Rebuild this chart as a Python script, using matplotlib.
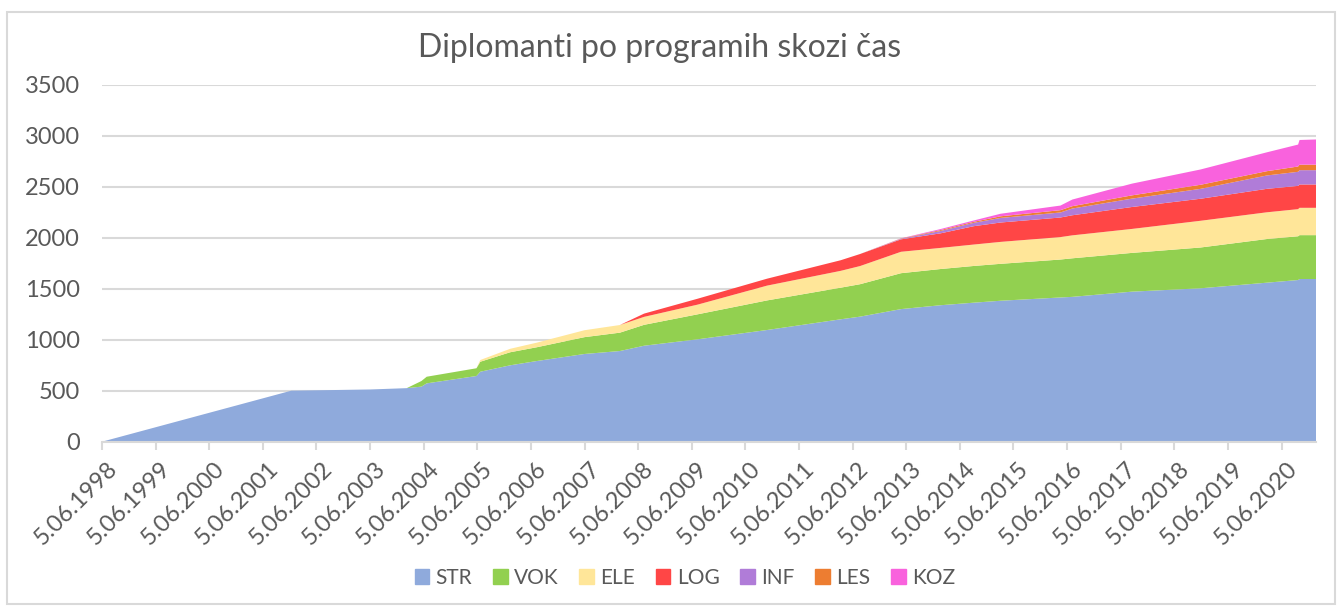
import numpy as np
import pandas as pd
import matplotlib
matplotlib.use("Agg")
import matplotlib.pyplot as plt
from matplotlib.patches import Rectangle
from matplotlib.transforms import ScaledTranslation

plt.rcParams['font.family'] = ['Lato', 'DejaVu Sans']

# cumulative graduates per programme
dates = ['1998-06-05', '2001-12-15', '2003-06-05', '2004-02-10', '2004-05-20',
         '2004-06-25', '2005-05-30', '2005-06-25', '2006-01-15', '2006-07-15',
         '2007-06-05', '2008-02-01', '2008-07-15', '2009-07-15', '2010-10-30',
         '2012-03-15', '2012-07-25', '2013-04-30', '2014-01-25', '2014-09-08',
         '2015-03-10', '2016-04-20', '2016-07-10', '2017-08-20', '2018-12-01',
         '2020-02-25', '2020-09-25', '2020-10-05', '2021-01-25']
STR = [0, 500, 512, 525, 540, 572, 644, 686, 749, 791, 860, 889, 941, 1004, 1095,
       1200, 1226, 1300, 1338, 1363, 1382, 1414, 1420, 1471, 1504, 1559, 1585, 1595, 1595]
VOK = [0, 0, 0, 0, 55, 65, 76, 98, 128, 135, 165, 180, 205, 245, 290,
       310, 318, 352, 355, 360, 362, 372, 378, 380, 400, 428, 429, 430, 430]
ELE = [0, 0, 0, 0, 0, 0, 0, 17, 34, 45, 68, 75, 78, 95, 145,
       165, 178, 210, 207, 210, 215, 220, 225, 235, 262, 262, 266, 268, 268]
LOG = [0, 0, 0, 0, 0, 0, 0, 0, 0, 0, 0, 0, 32, 58, 68,
       104, 118, 122, 143, 180, 190, 192, 197, 215, 216, 230, 228, 229, 229]
INF = [0, 0, 0, 0, 0, 0, 0, 0, 0, 0, 0, 0, 0, 0, 0,
       0, 0, 5, 23, 33, 45, 49, 66, 82, 97, 131, 138, 140, 140]
LES = [0, 0, 0, 0, 0, 0, 0, 0, 0, 0, 0, 0, 0, 0, 0,
       0, 0, 3, 9, 10, 16, 23, 23, 32, 40, 42, 52, 54, 54]
KOZ = [0, 0, 0, 0, 0, 0, 0, 0, 0, 0, 0, 0, 0, 0, 0,
       0, 0, 2, 10, 13, 25, 45, 65, 115, 150, 185, 215, 242, 247]

names = ['STR', 'VOK', 'ELE', 'LOG', 'INF', 'LES', 'KOZ']
colors = ['#8faadc', '#92d050', '#ffe699', '#ff4646', '#b07cd8', '#ed7d31', '#f962dd']
tick_years = list(range(1998, 2021))

x = pd.to_datetime(dates)

fig = plt.figure(figsize=(13.42, 6.10), dpi=100)
ax = fig.add_axes([102 / 1342, 1 - 441.7 / 610, (1316 - 102) / 1342, (441.7 - 84.7) / 610])

ax.stackplot(x, STR, VOK, ELE, LOG, INF, LES, KOZ, colors=colors, labels=names,
             linewidth=0, zorder=2)

ax.set_ylim(0, 3500)
ax.set_yticks(range(0, 3501, 500))
ax.set_xlim(pd.Timestamp('1998-06-05'), pd.Timestamp('2021-01-25'))
ticks = [pd.Timestamp(year=y, month=6, day=5) for y in tick_years]
ax.set_xticks(ticks)
ax.set_xticklabels([])

# rotated date labels, offset like Excel's
shift = ScaledTranslation(12 / 100, -24 / 100, fig.dpi_scale_trans)
for t in ticks:
    ax.text(t, 0, f"{t.day}.{t.month:02d}.{t.year}",
            transform=ax.get_xaxis_transform() + shift,
            rotation=45, ha='right', va='center', rotation_mode='anchor',
            fontsize=17, color='#595959')

ax.grid(axis='y', color='#d9d9d9', linewidth=1.5, zorder=0)
ax.set_axisbelow(True)
for s in ['top', 'right', 'left']:
    ax.spines[s].set_visible(False)
ax.spines['bottom'].set_color('#d9d9d9')
ax.spines['bottom'].set_linewidth(1.5)
ax.tick_params(axis='y', length=0, pad=16, labelsize=17, labelcolor='#595959')
ax.tick_params(axis='x', length=6, width=1.5, color='#d9d9d9')

fig.text(660 / 1342, 1 - 48 / 610, 'Diplomanti po programih skozi čas',
         ha='center', va='center', fontsize=23, color='#595959')

handles = [Rectangle((0, 0), 1, 1, color=c) for c in colors]
fig.legend(handles, names, loc='center', bbox_to_anchor=(685 / 1342, 1 - 578 / 610),
           ncol=7, frameon=False, fontsize=15, labelcolor='#595959',
           handlelength=0.7, handleheight=0.7, handletextpad=0.3, columnspacing=1.0)

fig.patches.append(Rectangle((7 / 1342, 0.01), 1328 / 1342, 1 - 12 / 610 - 0.01,
                             transform=fig.transFigure, fill=False,
                             edgecolor='#d9d9d9', linewidth=1.5))

fig.savefig('out.png', dpi=100, facecolor='white')
